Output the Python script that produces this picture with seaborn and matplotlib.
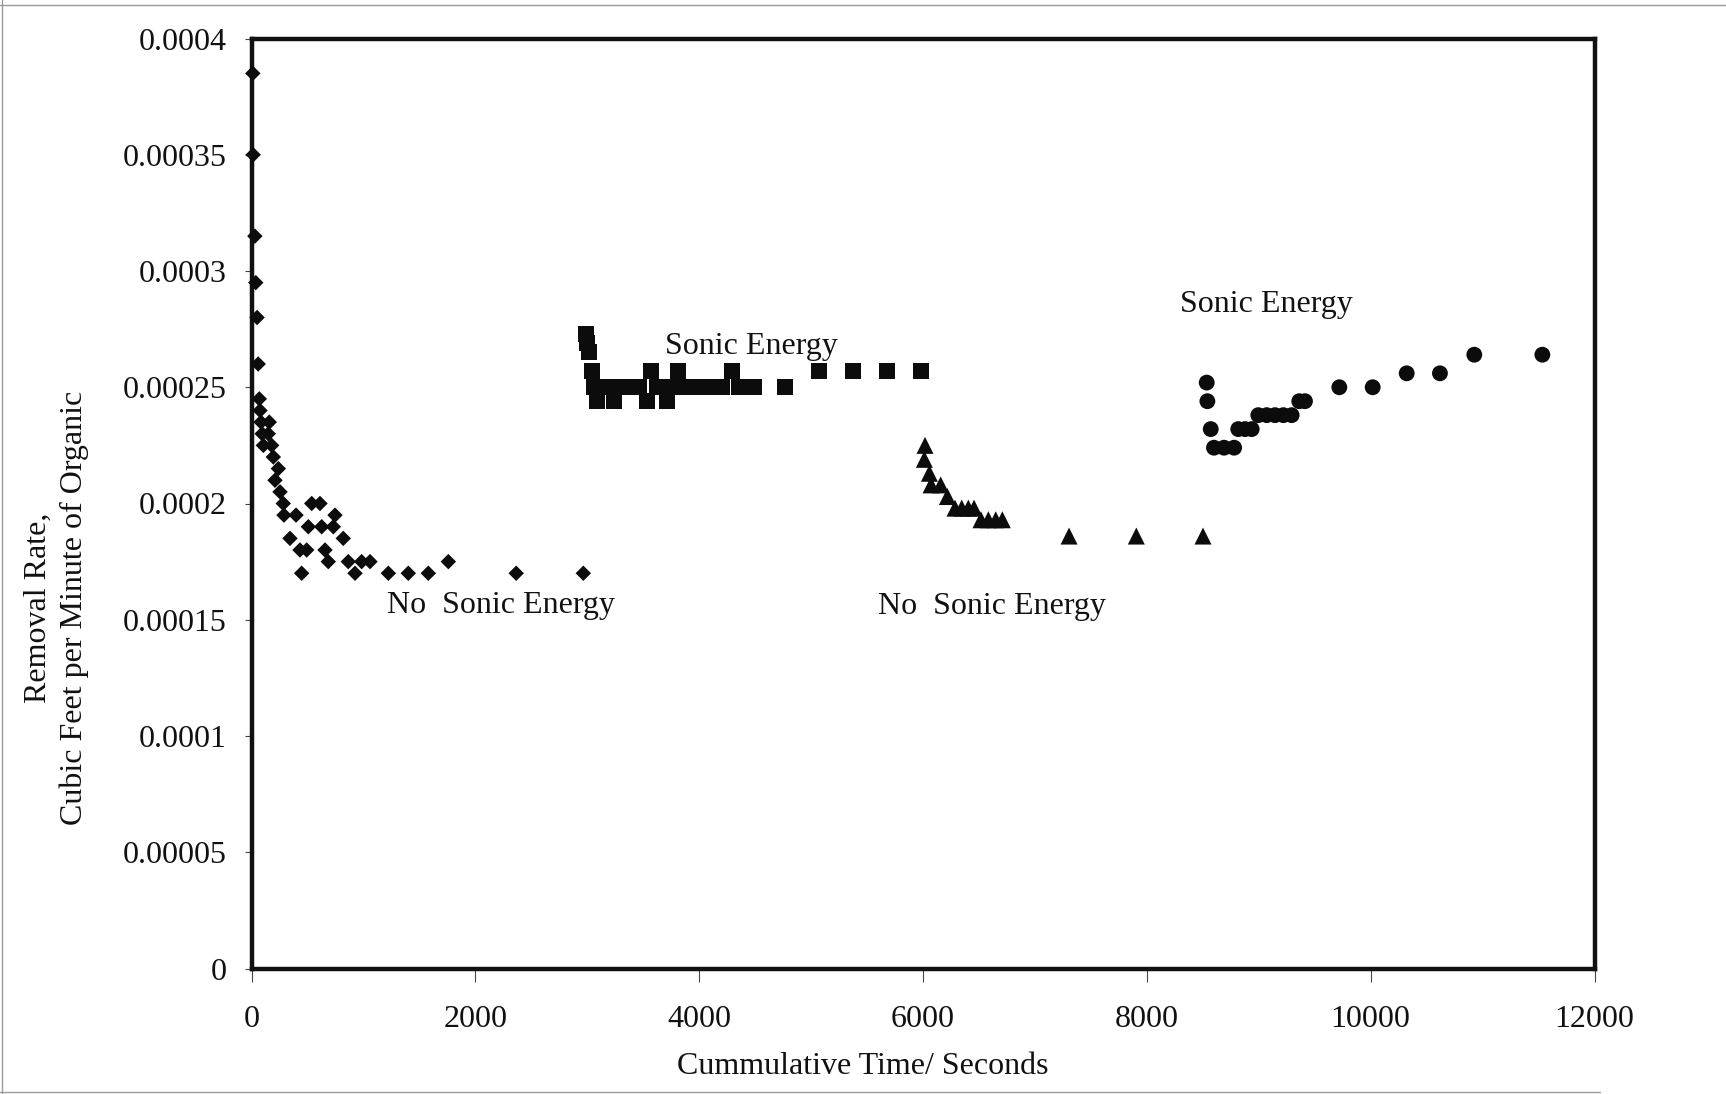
import matplotlib
matplotlib.use("Agg")
import matplotlib.pyplot as plt
from matplotlib.lines import Line2D
import seaborn as sns
import pandas as pd

# Run without sonic energy (first stage)
no_sonic1_time = [12, 15, 30, 38, 50, 60, 70, 76, 85, 95, 106, 150, 159, 180, 195,
                  210, 240, 255, 284, 290, 344, 398, 433, 448, 493, 508, 538, 612,
                  627, 657, 686, 731, 746, 820, 865, 925, 984, 1059, 1223, 1401,
                  1580, 1759, 2365, 2965]
no_sonic1_rate = [0.000385, 0.00035, 0.000315, 0.000295, 0.00028, 0.00026, 0.000245,
                  0.00024, 0.000235, 0.00023, 0.000225, 0.00023, 0.000235, 0.000225,
                  0.00022, 0.00021, 0.000215, 0.000205, 0.0002, 0.000195, 0.000185,
                  0.000195, 0.00018, 0.00017, 0.00018, 0.00019, 0.0002, 0.0002,
                  0.00019, 0.00018, 0.000175, 0.00019, 0.000195, 0.000185, 0.000175,
                  0.00017, 0.000175, 0.000175, 0.00017, 0.00017, 0.00017, 0.000175,
                  0.00017, 0.00017]

# Run with sonic energy (second stage)
sonic1_time = [2990, 3000, 3015, 3040, 3060, 3090, 3130, 3200, 3240, 3300, 3380, 3460,
               3537, 3567, 3620, 3715, 3760, 3813, 3880, 3960, 4040, 4120, 4200, 4291,
               4360, 4440, 4485, 4770, 5068, 5374, 5676, 5980]
sonic1_rate = [0.000273, 0.000269, 0.000265, 0.000257, 0.00025, 0.000244, 0.00025,
               0.00025, 0.000244, 0.00025, 0.00025, 0.00025, 0.000244, 0.000257,
               0.00025, 0.000244, 0.00025, 0.000257, 0.00025, 0.00025, 0.00025,
               0.00025, 0.00025, 0.000257, 0.00025, 0.00025, 0.00025, 0.00025,
               0.000257, 0.000257, 0.000257, 0.000257]

# Run without sonic energy (third stage)
no_sonic2_time = [6012, 6018, 6057, 6072, 6158, 6218, 6286, 6346, 6405, 6456, 6518,
                  6584, 6650, 6709, 7305, 7906, 8502]
no_sonic2_rate = [0.000219, 0.000225, 0.000213, 0.000208, 0.000208, 0.000203,
                  0.000198, 0.000198, 0.000198, 0.000198, 0.000193, 0.000193,
                  0.000193, 0.000193, 0.000186, 0.000186, 0.000186]

# Run with sonic energy (fourth stage)
sonic2_time = [8535, 8541, 8571, 8600, 8690, 8780, 8817, 8877, 8937, 8996, 9071, 9145,
               9220, 9294, 9362, 9413, 9720, 10018, 10322, 10619, 10926, 11534]
sonic2_rate = [0.000252, 0.000244, 0.000232, 0.000224, 0.000224, 0.000224, 0.000232,
               0.000232, 0.000232, 0.000238, 0.000238, 0.000238, 0.000238, 0.000238,
               0.000244, 0.000244, 0.00025, 0.00025, 0.000256, 0.000256, 0.000264,
               0.000264]

x_ticks = [0, 2000, 4000, 6000, 8000, 10000, 12000]
y_ticks = [0, 0.00005, 0.0001, 0.00015, 0.0002, 0.00025, 0.0003, 0.00035, 0.0004]
y_tick_labels = ["0", "0.00005", "0.0001", "0.00015", "0.0002", "0.00025",
                 "0.0003", "0.00035", "0.0004"]

sns.set_style("white")
plt.rcParams["font.family"] = ["Liberation Serif", "DejaVu Serif"]

W, H = 1726, 1094
fig = plt.figure(figsize=(W / 100, H / 100), dpi=100)
ax = fig.add_axes([251.5 / W, 1 - 968.5 / H, 1343 / W, 930 / H])

runs = [
    (no_sonic1_time, no_sonic1_rate, "D", 62),
    (sonic1_time, sonic1_rate, "s", 135),
    (no_sonic2_time, no_sonic2_rate, "^", 150),
    (sonic2_time, sonic2_rate, "o", 130),
]
for t, r, mk, size in runs:
    df = pd.DataFrame({"time": t, "rate": r})
    sns.scatterplot(data=df, x="time", y="rate", marker=mk, s=size,
                    color="#0c0c0c", edgecolor="none", linewidth=0, ax=ax,
                    legend=False, clip_on=False, zorder=3)

ax.set_xlim(0, 12000)
ax.set_ylim(0, 0.0004)
ax.set_xticks(x_ticks)
ax.set_xticklabels([str(v) for v in x_ticks])
ax.set_yticks(y_ticks)
ax.set_yticklabels(y_tick_labels)
ax.set_xlabel("")
ax.set_ylabel("")

for side in ["left", "right", "top", "bottom"]:
    ax.spines[side].set_visible(True)
    ax.spines[side].set_color("#111111")
    ax.spines[side].set_linewidth(3.2)

ax.tick_params(axis="y", which="major", left=True, direction="out", length=5,
               width=0.8, color="#444444", pad=13, labelsize=23, labelcolor="#111111")
ax.tick_params(axis="x", which="major", bottom=True, direction="out", length=9,
               width=0.8, color="#444444", pad=17, labelsize=23, labelcolor="#111111")

txt_kw = dict(fontsize=23, color="#111111", ha="left", va="center")
ax.text(3694, 0.0002674, "Sonic Energy", **txt_kw)
ax.text(1215, 0.0001562, "No  Sonic Energy", **txt_kw)
ax.text(5602, 0.0001557, "No  Sonic Energy", **txt_kw)
ax.text(8297, 0.0002854, "Sonic Energy", **txt_kw)

fig.text(56 / W, 1 - 608 / H, "Removal Rate,\nCubic Feet per Minute of Organic",
         rotation=90, ha="center", va="center", multialignment="center",
         fontsize=23, color="#111111", linespacing=1.3)
fig.text(862.5 / W, 1 - 1067 / H, "Cummulative Time/ Seconds",
         ha="center", va="center", fontsize=23, color="#111111")

# faint chart-area border
border_kw = dict(color="#9a9a9a", linewidth=1.0, transform=fig.transFigure)
fig.add_artist(Line2D([0, 1], [1 - 5 / H, 1 - 5 / H], **border_kw))
fig.add_artist(Line2D([2 / W, 2 / W], [0, 1], **border_kw))
fig.add_artist(Line2D([0, 1600 / W], [1 - 1092 / H, 1 - 1092 / H], **border_kw))

fig.savefig("out.png", dpi=100, facecolor="white")
